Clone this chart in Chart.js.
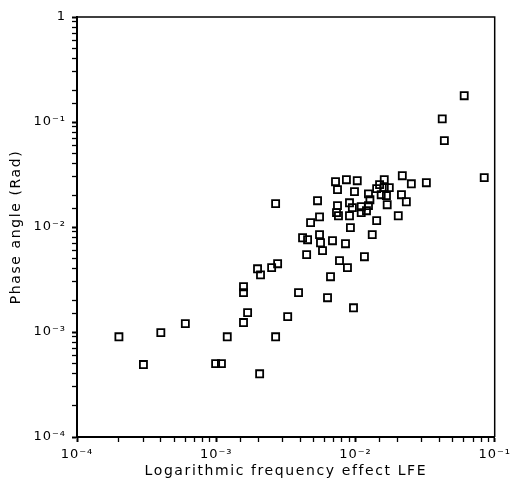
<!DOCTYPE html>
<html>
<head>
<meta charset="utf-8">
<script src="https://cdn.jsdelivr.net/npm/chart.js@4"></script>
<style>
  html, body { margin: 0; padding: 0; background: #fff; }
  canvas { display: block; }
</style>
</head>
<body>
<canvas id="lfeChart" width="514" height="480"></canvas>
<script>
// logarithmic frequency effect (x) and phase angle in rad (y)
var lfe = [
    2.0e-4, 3.0e-4, 4.0e-4, 6.0e-4, 9.9e-4, 1.09e-3, 1.2e-3, 1.57e-3, 1.57e-3, 1.68e-3,
    1.57e-3, 2.05e-3, 1.98e-3, 2.08e-3, 2.5e-3, 2.76e-3, 2.67e-3, 3.26e-3, 3.9e-3, 2.67e-3,
    4.46e-3, 4.17e-3, 4.53e-3, 4.76e-3, 5.34e-3, 5.52e-3, 5.52e-3, 5.61e-3, 5.8e-3, 6.3e-3,
    6.62e-3, 6.84e-3, 7.19e-3, 7.43e-3, 7.43e-3, 7.31e-3, 7.55e-3, 7.68e-3, 8.48e-3, 8.61e-3,
    8.76e-3, 9.06e-3, 9.5e-3, 9.06e-3, 9.2e-3, 9.68e-3, 9.84e-3, 1.03e-2, 1.1e-2, 1.1e-2,
    1.16e-2, 1.24e-2, 1.27e-2, 1.24e-2, 1.2e-2, 1.32e-2, 1.42e-2, 1.49e-2, 1.61e-2, 1.61e-2,
    1.75e-2, 1.53e-2, 1.67e-2, 1.42e-2, 1.69e-2, 2.03e-2, 2.17e-2, 2.52e-2, 3.23e-2, 2.14e-2,
    2.32e-2, 4.2e-2, 4.35e-2, 6.04e-2, 8.41e-2
];
var phase = [
    9.0e-4, 4.9e-4, 9.85e-4, 1.2e-3, 5.0e-4, 5.0e-4, 9.0e-4, 2.7e-3, 2.37e-3, 1.53e-3,
    1.23e-3, 4.0e-4, 4.0e-3, 3.5e-3, 4.1e-3, 4.47e-3, 9.0e-4, 1.4e-3, 2.37e-3, 1.67e-2,
    5.45e-3, 7.9e-3, 7.57e-3, 1.1e-2, 1.78e-2, 1.25e-2, 8.45e-3, 7.08e-3, 5.95e-3, 2.12e-3,
    3.36e-3, 7.4e-3, 2.7e-2, 2.27e-2, 1.6e-2, 1.37e-2, 1.28e-2, 4.78e-3, 6.93e-3, 2.82e-2,
    4.1e-3, 1.7e-2, 1.53e-2, 1.28e-2, 9.85e-3, 1.7e-3, 2.17e-2, 2.76e-2, 1.56e-2, 1.37e-2,
    5.21e-3, 2.07e-2, 1.82e-2, 1.6e-2, 1.43e-2, 8.45e-3, 2.32e-2, 2.53e-2, 2.82e-2, 2.37e-2,
    2.37e-2, 2.03e-2, 1.99e-2, 1.15e-2, 1.63e-2, 1.28e-2, 3.08e-2, 2.58e-2, 2.64e-2, 2.03e-2,
    1.74e-2, 0.107, 6.64e-2, 0.178, 2.95e-2
];
// decade exponents that carry a label on each axis
var xDecades = [-4, -3, -2, -1];
var yDecades = [-4, -3, -2, -1, 0];

var sup = { '-': '\u207B', '0': '\u2070', '1': '\u00B9', '2': '\u00B2', '3': '\u00B3', '4': '\u2074' };

function decadeLabel(decades) {
    return function(value) {
        var e = Math.round(Math.log10(value));
        if (Math.abs(Math.log10(value) - e) > 1e-6 || decades.indexOf(e) < 0) return '';
        if (e === 0) return '1';
        return '10' + String(e).split('').map(function(c) { return sup[c]; }).join('');
    };
}

function isDecade(ctx) {
    if (!ctx.tick) return false;
    var l = Math.log10(ctx.tick.value);
    return Math.abs(l - Math.round(l)) < 1e-6;
}

var points = lfe.map(function(x, i) { return { x: x, y: phase[i] }; });

// wide plotter-style lettering for titles and tick labels
function spaced(fn, spacing) {
    return function() {
        var c = this.ctx;
        c.save();
        c.letterSpacing = spacing;
        fn.apply(this, arguments);
        c.restore();
    };
}

var lettering = {
    id: 'lettering',
    beforeDraw: function(chart) {
        Object.values(chart.scales).forEach(function(s) {
            if (s._spaced) return;
            s.drawTitle = spaced(s.drawTitle, '1.6px');
            s.drawLabels = spaced(s.drawLabels, '1px');
            s._spaced = true;
        });
    },
    afterDraw: function(chart) {
        var a = chart.chartArea, c = chart.ctx;
        c.save();
        c.strokeStyle = '#000';
        c.lineWidth = 1.5;
        c.beginPath();
        c.moveTo(a.left, a.top);
        c.lineTo(a.right, a.top);
        c.lineTo(a.right, a.bottom);
        c.stroke();
        c.restore();
    }
};

var tickFont = { family: 'DejaVu Sans', size: 13 };
var titleFont = { family: 'DejaVu Sans', size: 14 };

new Chart(document.getElementById('lfeChart').getContext('2d'), {
    type: 'scatter',
    data: {
        datasets: [{
            data: points,
            pointStyle: 'rect',
            pointRadius: 5,
            borderColor: '#000',
            backgroundColor: 'rgba(0,0,0,0)',
            borderWidth: 1.8
        }]
    },
    options: {
        responsive: false,
        animation: false,
        devicePixelRatio: 1,
        layout: { padding: { top: 17, right: 19, left: 8, bottom: 0 } },
        plugins: { legend: { display: false }, tooltip: { enabled: false } },
        scales: {
            x: {
                type: 'logarithmic',
                min: 1e-4,
                max: 1e-1,
                border: { color: '#000', width: 2 },
                grid: {
                    drawOnChartArea: false,
                    color: '#000',
                    tickLength: 5,
                    tickWidth: function(ctx) { return isDecade(ctx) ? 2 : 1.3; }
                },
                ticks: {
                    autoSkip: false,
                    maxRotation: 0,
                    color: '#000',
                    font: tickFont,
                    padding: 5,
                    callback: decadeLabel(xDecades)
                },
                title: {
                    display: true,
                    text: 'Logarithmic frequency effect LFE',
                    color: '#000',
                    font: titleFont,
                    padding: 0
                },
                afterFit: function(s) { s.height = 43; }
            },
            y: {
                type: 'logarithmic',
                min: 1e-4,
                max: 1,
                border: { color: '#000', width: 2 },
                grid: {
                    drawOnChartArea: false,
                    color: '#000',
                    tickLength: 5,
                    tickWidth: function(ctx) { return isDecade(ctx) ? 2 : 1.3; }
                },
                ticks: {
                    autoSkip: false,
                    color: '#000',
                    font: tickFont,
                    padding: 6,
                    callback: decadeLabel(yDecades)
                },
                title: {
                    display: true,
                    text: 'Phase angle (Rad)',
                    color: '#000',
                    font: titleFont,
                    padding: 0
                },
                afterFit: function(s) { s.width = 69; }
            }
        }
    },
    plugins: [lettering]
});
</script>
</body>
</html>
